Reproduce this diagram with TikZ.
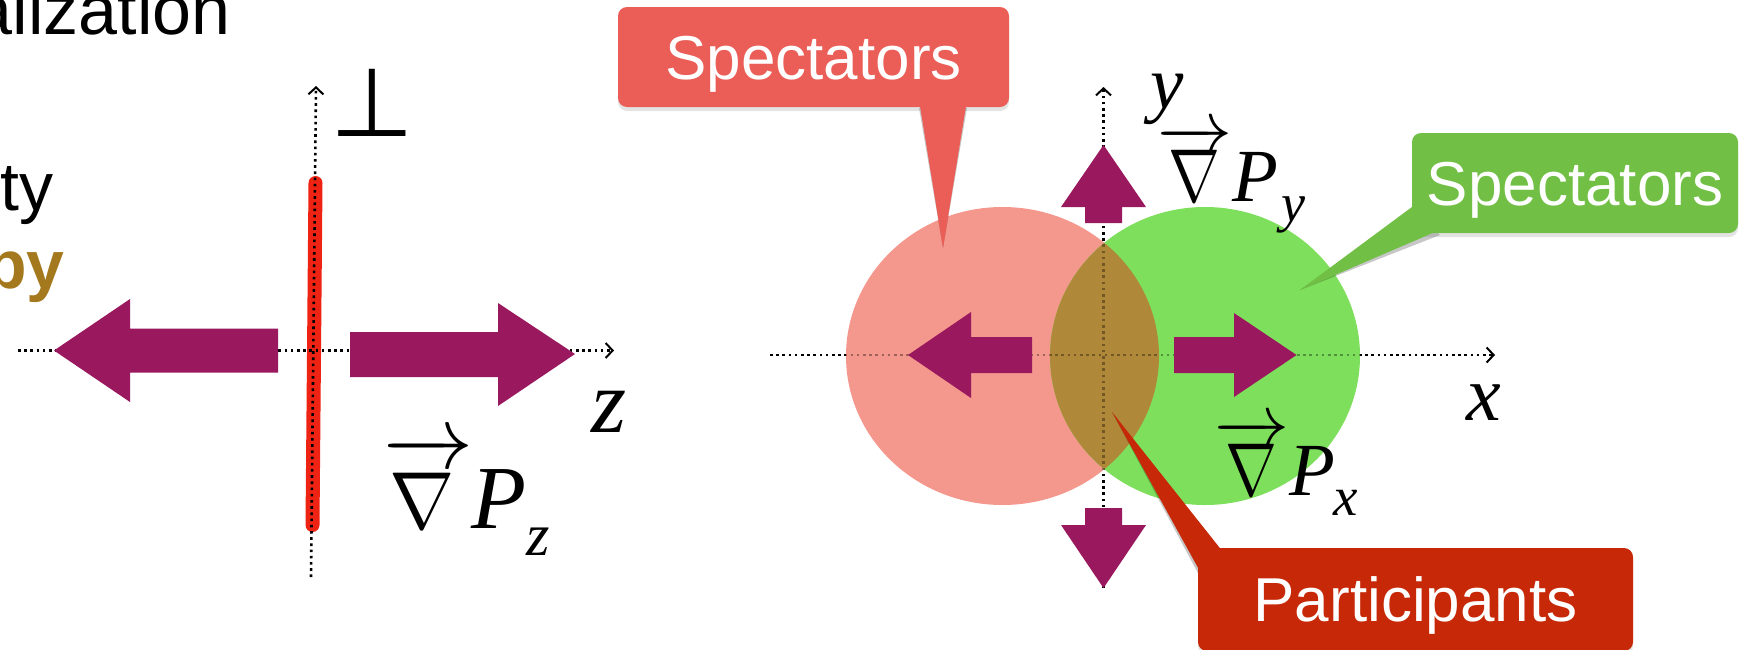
\documentclass[tikz,border=0pt]{standalone}
\usepackage{fontspec}
\setmainfont{Liberation Sans}
\newfontfamily\tnr{Liberation Serif}
\newfontfamily\djv{DejaVu Sans}
\usepackage{graphicx}
\usetikzlibrary{arrows.meta,shadows}
\definecolor{purp}{RGB}{154,24,94}
\definecolor{barred}{RGB}{238,35,20}
\definecolor{pinkc}{RGB}{244,151,141}
\definecolor{greenc}{RGB}{126,223,92}
\definecolor{brownc}{RGB}{176,136,58}
\definecolor{calred}{RGB}{235,94,87}
\definecolor{calgreen}{RGB}{113,191,68}
\definecolor{calpart}{RGB}{199,40,8}
\definecolor{goldc}{RGB}{164,120,28}
\newcommand\myfs[1]{\fontsize{#1}{#1}\selectfont}
% #1 scale, #2 space before, #3 space after, #4 nabla x-scale, #5 strut, #6 nabla y-scale
\newcommand\vecnabla[6]{\scalebox{#1}{\myfs{10}$\overrightarrow{\hbox{\rule{0pt}{#5}\hspace{#2}\scalebox{#4}[#6]{$\nabla$}\hspace{#3}}}$}}
\begin{document}
\begin{tikzpicture}[x=1pt,y=-1pt,
  axisline/.style={line width=2.6pt, dash pattern=on 2.6pt off 3.6pt},
  axis/.style={axisline, -{Straight Barb[length=7pt,width=15pt,line width=2pt]}},
  bigarrow/.style={fill=purp},
  callbox/.style={rounded corners=9pt, inner sep=0pt, text=white, font=\myfs{62},
    text height=44pt, text depth=0pt,
    drop shadow={shadow xshift=0pt, shadow yshift=-4pt, opacity=.22}},
  tailshadow/.style={fill=black, opacity=.22, yshift=-4pt},
  mathlab/.style={inner sep=0pt, font=\myfs{#1}\tnr\itshape}]
\useasboundingbox (0,0) rectangle (1751,649);
\clip (0,0) rectangle (1751,649);

% ---------- left text fragments ----------
\node[anchor=base east, inner sep=0pt, font=\myfs{70}] (t1) at (231,34) {alization};
\node[anchor=base east, inner sep=0pt, font=\myfs{68}] (t2) at (54,210) {ty};
\node[anchor=base east, inner sep=0pt, font=\myfs{68}\bfseries, text=goldc] (t3) at (65,288) {py};

% ---------- left diagram ----------
\draw[barred, line width=14pt, line cap=round] (312.5,525) -- (315.5,183);
\coordinate (zl) at (18,350.5);
\coordinate (zr) at (614,350.5);
\coordinate (pb) at (311,577);
\coordinate (ptop) at (316,86);
\draw[axis] (zl) -- (zr);
\draw[axis] (pb) -- (ptop);
\fill[bigarrow] (54,350.5) -- (130,299) -- (130,328.5) -- (278,328.5) -- (278,372.5)
  -- (130,372.5) -- (130,402) -- cycle;
\fill[bigarrow] (575,354) -- (498,303) -- (498,332) -- (350,332) -- (350,377)
  -- (498,377) -- (498,406) -- cycle;
\node[inner sep=0pt, font=\myfs{96}\djv] (perpsym) at (372.5,102.5) {⊥};
\node[mathlab=90] (zlab) at (609.5,412) {z};
\node[mathlab=90, anchor=base west] (gz) at (383,528)
  {\vecnabla{9}{0.6pt}{1.9pt}{0.87}{7.6pt}{0.9}\hspace{-2pt}P\raisebox{-27pt}{\myfs{60}z}};

% ---------- right diagram ----------
\coordinate (xl) at (770,355);
\coordinate (xr) at (1495,355);
\coordinate (yb) at (1103.5,588);
\coordinate (yt) at (1103.5,87);
\draw[axis] (xl) -- (xr);
\draw[axis] (yb) -- (yt);
\fill[pinkc] (1002.5,356) ellipse [x radius=156.5pt, y radius=149pt];
\fill[greenc] (1205,356) ellipse [x radius=155pt, y radius=149pt];
\begin{scope}
  \clip (1002.5,356) ellipse [x radius=156.5pt, y radius=149pt];
  \fill[brownc] (1205,356) ellipse [x radius=155pt, y radius=149pt];
\end{scope}
\begin{scope}
  \clip (1002.5,356) ellipse [x radius=156.5pt, y radius=149pt]
        (1205,356) ellipse [x radius=155pt, y radius=149pt];
  \draw[axisline, draw opacity=.35] (xl) -- (xr);
  \draw[axisline, draw opacity=.35] (yb) -- (yt);
\end{scope}
% purple arrows
\fill[bigarrow] (908,355) -- (971,312) -- (971,337) -- (1032,337) -- (1032,373)
  -- (971,373) -- (971,398) -- cycle;
\fill[bigarrow] (1296.5,355) -- (1234,313) -- (1234,337) -- (1174,337) -- (1174,373)
  -- (1234,373) -- (1234,397) -- cycle;
\fill[bigarrow] (1103.5,145) -- (1061,207) -- (1085,207) -- (1085,223) -- (1122,223)
  -- (1122,207) -- (1146,207) -- cycle;
\fill[bigarrow] (1103.5,588) -- (1061,525) -- (1085,525) -- (1085,508) -- (1122,508)
  -- (1122,525) -- (1146,525) -- cycle;
% labels
\node[mathlab=75] (ylab) at (1167,99) {y};
\node[mathlab=78] (xlab) at (1483.5,403) {x};
\node[mathlab=75, anchor=base west] (gy) at (1157,201)
  {\vecnabla{7.5}{0.93pt}{1.1pt}{0.83}{7.5pt}{1}\hspace{0pt}P\hspace{3pt}\raisebox{-20pt}{\myfs{54}y}};
\node[mathlab=75, anchor=base west] (gx) at (1214,495)
  {\vecnabla{7.5}{0.8pt}{0.9pt}{0.83}{7.5pt}{1}\hspace{0pt}P\hspace{-2pt}\raisebox{-20pt}{\myfs{55}x}};

% ---------- callouts ----------
\coordinate (tipR) at (943,248);
\coordinate (tipG) at (1300,290);
\coordinate (tipP) at (1112,412);
\fill[tailshadow] (919,104) -- (tipR) -- (967,104) -- cycle;
\fill[tailshadow] (1414,206) -- (tipG) -- (1440,231) -- cycle;
\fill[tailshadow] (1200,573) -- (tipP) -- (1221,550) -- cycle;

\node[callbox, fill=calred, minimum width=391pt, minimum height=100pt] (specR) at (813.5,57) {Spectators};
\node[callbox, fill=calgreen, minimum width=326pt, minimum height=100pt] (specG) at (1575,183) {Spectators};
\node[callbox, fill=calpart, minimum width=435pt, minimum height=103pt] (part) at (1415.5,599.5) {Participants};

\fill[calred] (919,100) -- (tipR) -- (967,100) -- cycle;
\fill[calgreen] (1416,204) -- (tipG) -- (1442,229) -- cycle;
\fill[calpart] (1202,575) -- (tipP) -- (1223,552) -- cycle;
\end{tikzpicture}
\end{document}
